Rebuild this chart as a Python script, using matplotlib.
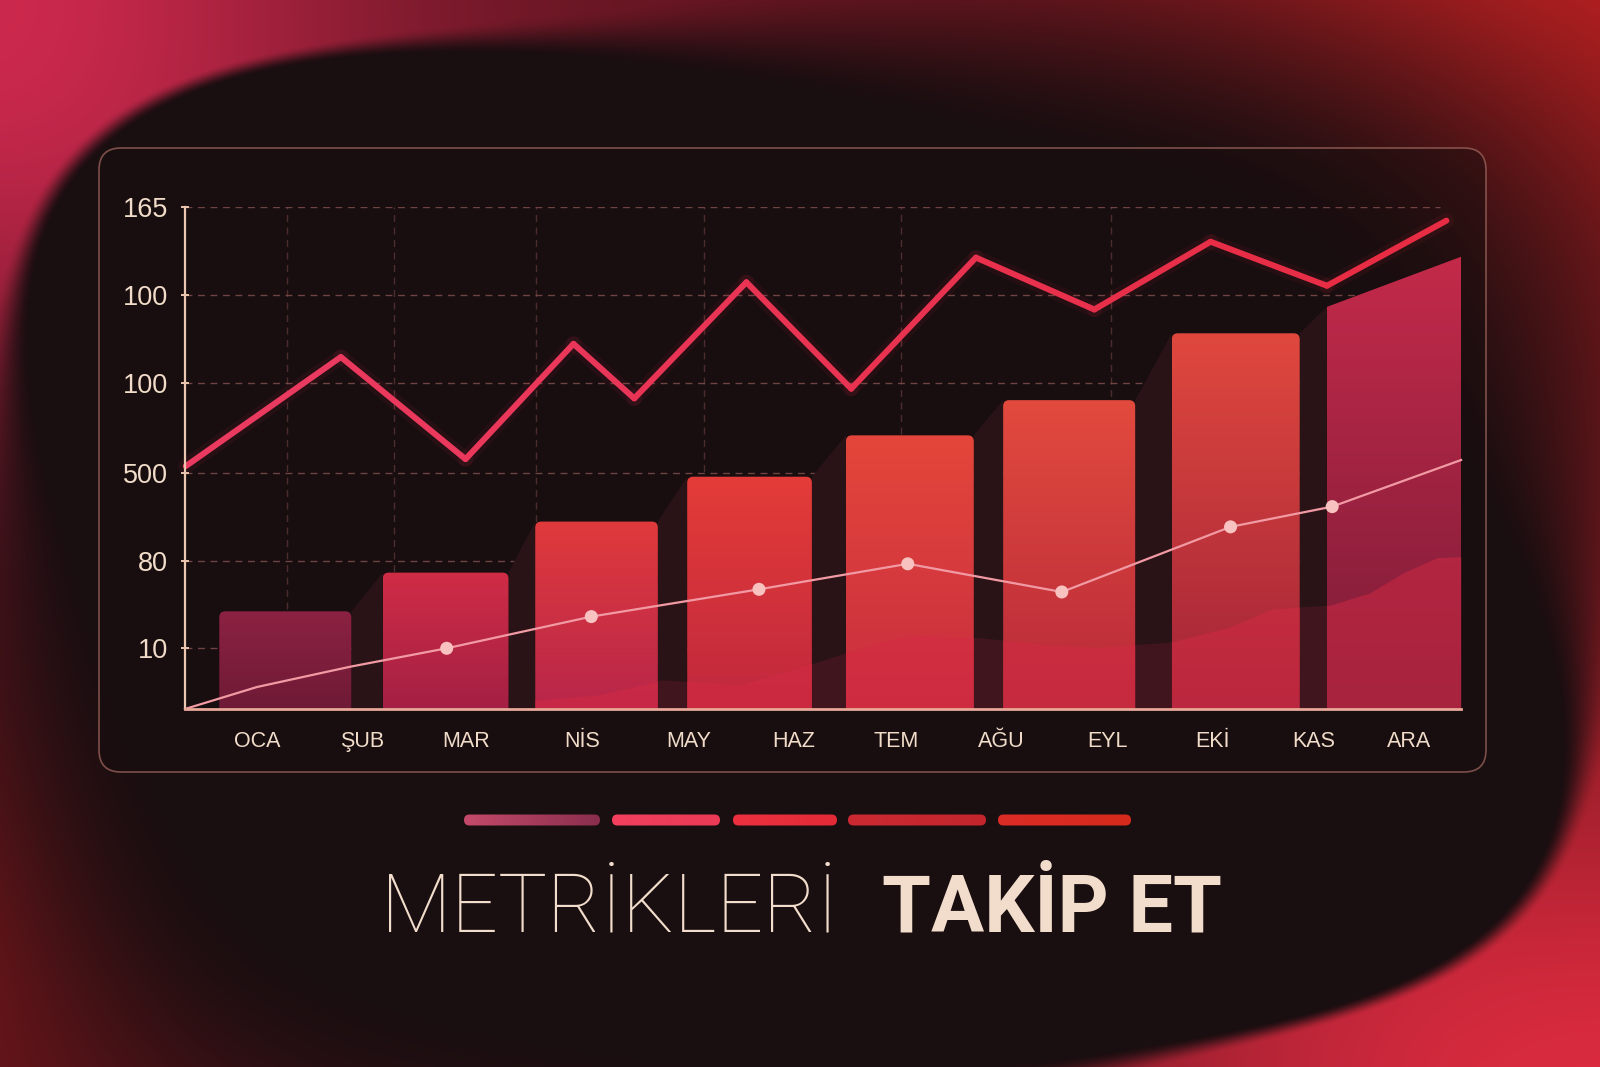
import numpy as np
import matplotlib
matplotlib.use("Agg")
import matplotlib.pyplot as plt
from matplotlib.patches import FancyBboxPatch, Polygon
from matplotlib.collections import LineCollection
from matplotlib.colors import LinearSegmentedColormap

# ---------------- data ----------------
months = ["OCA", "ŞUB", "MAR", "NİS", "MAY", "HAZ", "TEM", "AĞU", "EYL", "EKİ", "KAS", "ARA"]
month_pos = [0.0, 1.00, 2.00, 3.10, 4.12, 5.12, 6.10, 7.10, 8.12, 9.12, 10.08, 10.99]
ytick_pos = [0.69, 1.68, 2.68, 3.70, 4.70, 5.70]
ytick_labels = ["10", "80", "500", "100", "100", "165"]

# upper zig-zag line
line_x = [-0.68, 0.80, 1.99, 3.02, 3.60, 4.67, 5.67, 6.86, 7.99, 9.10, 10.21, 11.35]
line_y = [2.76, 4.00, 2.84, 4.15, 3.53, 4.85, 3.64, 5.13, 4.54, 5.31, 4.81, 5.55]

# bars
bar_x = [0.27, 1.80, 3.24, 4.70, 6.23, 7.75, 9.34, 10.85]
bar_w = [1.26, 1.20, 1.17, 1.19, 1.22, 1.26, 1.22, 1.28]
bar_top_left = [1.11, 1.55, 2.13, 2.64, 3.11, 3.51, 4.27, 4.57]
bar_top_right = [1.11, 1.55, 2.13, 2.64, 3.11, 3.51, 4.27, 5.14]
bar_colors_top = ["#8c2242", "#d02c46", "#e03a3c", "#e43c38", "#e4463a", "#e24a3e", "#e0483e", "#c42a4a"]
bar_colors_bot = ["#6e1a36", "#a42044", "#b8264a", "#c0283e", "#c82e40", "#b82a3a", "#a22438", "#7a1c38"]

# lower trend line
trend_x = [-0.687, 0.0, 0.887, 1.81, 3.19, 4.79, 6.21, 7.68, 9.29, 10.26, 11.49]
trend_y = [0.0, 0.25, 0.48, 0.69, 1.05, 1.36, 1.65, 1.33, 2.07, 2.30, 2.83]
trend_dot = [False, False, False, True, True, True, True, True, True, True, False]

# wave area at the bottom
wave_x = [2.65, 3.27, 3.87, 4.61, 5.31, 5.94, 6.26, 6.90, 7.54, 8.04, 8.71, 9.28, 9.67,
          9.95, 10.24, 10.62, 10.94, 11.26, 11.49]
wave_y = [0.10, 0.16, 0.33, 0.27, 0.52, 0.76, 0.84, 0.81, 0.73, 0.70, 0.76, 0.93, 1.13,
          1.16, 1.18, 1.32, 1.55, 1.72, 1.73]

grid_x = [0.29, 1.31, 2.66, 4.27, 6.15, 8.15]

legend_colors = [("#c44a6a", "#8a2e4e"), ("#f2405e", "#ea3a56"), ("#ec3040", "#e42a36"),
                 ("#cc2a32", "#c2262c"), ("#dc2c26", "#d62a1c")]
legend_spans = [(464, 600), (612, 720), (733, 837), (848, 986), (998, 1131)]

title_light = "METRİKLERİ"
title_bold = "TAKİP ET"

# ---------------- figure ----------------
W, H, DPI = 1600, 1067, 100
fig = plt.figure(figsize=(W / DPI, H / DPI), dpi=DPI)

bg = fig.add_axes([0, 0, 1, 1])
bg.axis("off")

yy, xx = np.mgrid[0:H, 0:W].astype(float)
red = np.zeros((H, W, 3)) + np.array([64, 16, 24]) / 255.0
blobs = [
    (0, 0, 520, 420, (210, 42, 80), 1.0),
    (1600, 0, 620, 520, (186, 32, 32), 1.0),
    (1600, 1067, 620, 460, (224, 44, 66), 1.0),
    (0, 930, 300, 260, (150, 26, 30), 0.7),
    (800, 0, 520, 160, (105, 22, 34), 0.6),
    (1600, 500, 300, 400, (140, 26, 30), 0.6),
]
for cx, cy, rx, ry, col, s in blobs:
    w = s * np.exp(-(((xx - cx) / rx) ** 2 + ((yy - cy) / ry) ** 2))[..., None]
    red = red * (1 - w) + np.array(col) / 255.0 * w


def sig(v):
    return 1.0 / (1.0 + np.exp(-v))


cx, cy = 790.0, 540.0
a = np.where(xx > cx, 800.0, 787.0)
b_bottom = 492.0 + 110.0 * sig((1000.0 - xx) / 150.0)
b = np.where(yy > cy, b_bottom, 505.0)
p = 4.0
nx = (xx - cx) / a
ny = (yy - cy) / b
t = (np.abs(nx) ** p + np.abs(ny) ** p) ** (1 / p)
theta = np.arctan2(-ny, nx)
soft = (0.015 + 0.28 * np.clip(np.cos(theta - np.pi / 4), 0, 1) ** 3
        + 0.22 * np.clip(np.cos(theta + 3 * np.pi / 4), 0, 1) ** 3)
u = np.clip((t - (1 - soft)) / (2 * soft), 0, 1)
dark = 1 - u * u * (3 - 2 * u)
darkcol = np.array([25, 14, 16]) / 255.0
img = red * (1 - dark[..., None]) + darkcol * dark[..., None]
bg.imshow(np.clip(img, 0, 1), extent=(0, W, H, 0), aspect="auto", zorder=0, interpolation="bilinear")

# panel
panel = FancyBboxPatch((99, 148), 1387, 624, boxstyle="round,pad=0,rounding_size=22",
                       facecolor=(0.09, 0.05, 0.055, 0.45), edgecolor=(0.62, 0.40, 0.36, 0.75),
                       lw=1.2, zorder=1)
bg.add_patch(panel)

# decorative colour strip
for (x0, x1), (c0, c1) in zip(legend_spans, legend_colors):
    pp = FancyBboxPatch((x0, 814.5), x1 - x0, 11, boxstyle="round,pad=0,rounding_size=5.5",
                        facecolor="none", edgecolor="none", zorder=2)
    bg.add_patch(pp)
    cm = LinearSegmentedColormap.from_list("lg", [c0, c1])
    im = bg.imshow(np.linspace(0, 1, 256)[None, :], extent=(x0, x1, 826, 814), cmap=cm,
                   aspect="auto", zorder=2)
    im.set_clip_path(pp)

bg.set_xlim(0, W)
bg.set_ylim(H, 0)

# title
fig.text(381 / W, 1 - 931 / H, title_light, family="Roboto", weight="light", fontsize=59,
         color="#f2dccb", ha="left", va="baseline")
fig.text(1222 / W, 1 - 931 / H, title_bold, family="Roboto", weight="bold", fontsize=57,
         color="#f2dccb", ha="right", va="baseline")

# ---------------- main axes ----------------
ax = fig.add_axes([185 / W, 1 - 709 / H, 1276 / W, 502 / H])
ax.set_facecolor("none")
XMIN, XMAX = -0.687, 11.489
YMAX = 5.705

ax.hlines(ytick_pos, XMIN, 11.29, colors="#8c5652", linestyles=(0, (5, 4)), lw=1.0, alpha=0.75, zorder=1)
ax.vlines(grid_x, 0, ytick_pos[-1], colors="#8c5652", linestyles=(0, (5, 4)), lw=1.0, alpha=0.45, zorder=1)

lefts = [c - w / 2 for c, w in zip(bar_x, bar_w)]
rights = [c + w / 2 for c, w in zip(bar_x, bar_w)]

# side faces behind bars
for i in range(len(bar_x) - 1):
    face = Polygon([(rights[i], 0), (rights[i], bar_top_right[i]), (lefts[i + 1], bar_top_left[i + 1]),
                    (lefts[i + 1], 0)], closed=True, facecolor="#2a1317", edgecolor="none", zorder=2)
    ax.add_patch(face)

ax.fill_between(wave_x, 0, wave_y, color="#4a1620", alpha=0.75, lw=0, zorder=2.2)

for i in range(len(bar_x)):
    l, r = lefts[i], rights[i]
    tl, tr = bar_top_left[i], bar_top_right[i]
    if tl == tr:
        patch = FancyBboxPatch((l, -0.3), r - l, tl + 0.3, boxstyle="round,pad=0,rounding_size=0.057",
                               mutation_aspect=1.19, facecolor="none", edgecolor="none", zorder=3)
    else:
        patch = Polygon([(l, -0.3), (l, tl), (r, tr), (r, -0.3)], closed=True,
                        facecolor="none", edgecolor="none", zorder=3)
    ax.add_patch(patch)
    cm = LinearSegmentedColormap.from_list("b%d" % i, [bar_colors_bot[i], bar_colors_top[i]])
    im = ax.imshow(np.linspace(0, 1, 256)[:, None], extent=(l, r, 0, max(tl, tr)), origin="lower",
                   cmap=cm, aspect="auto", zorder=3, interpolation="bicubic")
    im.set_clip_path(patch)
    wv = ax.fill_between(wave_x, 0, wave_y, color="#d42a44", alpha=0.5, lw=0, zorder=3.5)
    wv.set_clip_path(patch)

# upper line
pts = np.column_stack([line_x, line_y])
segs = [pts[i:i + 2] for i in range(len(pts) - 1)]
lcm = LinearSegmentedColormap.from_list("ln", ["#ea3a60", "#e82c44"])
cols = lcm(np.linspace(0, 1, len(segs)))
glow = LineCollection(segs, colors=cols, linewidths=11, alpha=0.07, capstyle="round",
                      joinstyle="round", zorder=4.9)
glow.set_clip_on(False)
ax.add_collection(glow)
lc = LineCollection(segs, colors=cols, linewidths=4.3, capstyle="round", joinstyle="round", zorder=5)
lc.set_clip_on(False)
ax.add_collection(lc)

# trend line
ax.plot(trend_x, trend_y, color="#f29aa4", lw=1.6, zorder=6, clip_on=False, solid_joinstyle="round")
tx = [x for x, d in zip(trend_x, trend_dot) if d]
ty = [y for y, d in zip(trend_y, trend_dot) if d]
ax.scatter(tx, ty, s=88, color="#f8c2c0", edgecolors="none", zorder=7, clip_on=False)

ax.set_xlim(XMIN, XMAX)
ax.set_ylim(0, YMAX)
for s in ["top", "right"]:
    ax.spines[s].set_visible(False)
ax.spines["left"].set_color("#ecc6ae")
ax.spines["left"].set_linewidth(1.6)
ax.spines["bottom"].set_color("#e8a898")
ax.spines["bottom"].set_linewidth(2.0)
ax.spines["left"].set_zorder(8)
ax.spines["bottom"].set_zorder(8)

ax.set_yticks(ytick_pos)
ax.set_yticklabels(ytick_labels, family="Liberation Sans", fontsize=19.5, color="#f0dcc8")
ax.set_xticks(month_pos)
ax.set_xticklabels(months, family="Liberation Sans", fontsize=15.5, color="#f0dcc8")
ax.tick_params(axis="y", direction="inout", length=6, width=1.4, color="#ecc6ae", pad=9)
ax.tick_params(axis="x", length=0, pad=16)

fig.savefig("out.png", dpi=DPI)
